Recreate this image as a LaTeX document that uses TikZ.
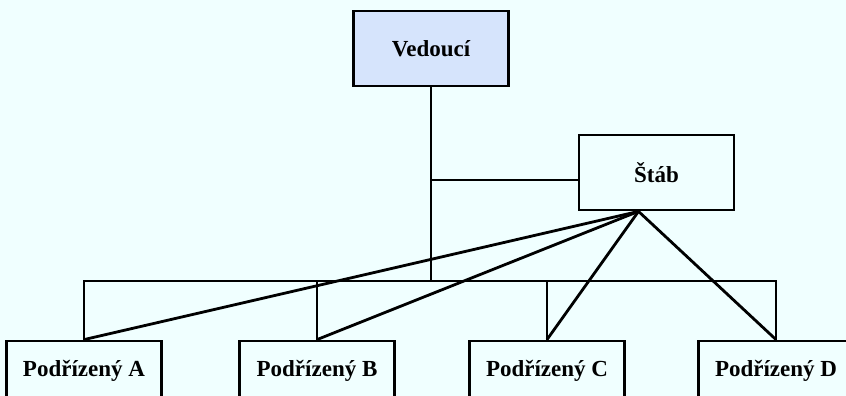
\documentclass[tikz,border=0pt]{standalone}
\usepackage{fontspec}
\setmainfont{Liberation Serif}
\definecolor{bgcyan}{RGB}{240,255,255}
\definecolor{bossblue}{RGB}{214,228,252}
\begin{document}
\begin{tikzpicture}[x=1pt,y=-1pt]
	\tikzstyle{every node}+=[inner sep=0pt]
	\tikzstyle{unit}=[draw=black, line width=2.8pt, minimum width=155pt, minimum height=75pt, font=\fontsize{23}{27}\selectfont\bfseries]
	\tikzstyle{link}=[black, line width=2.8pt]
	\useasboundingbox (0,0) rectangle (846,396);
	\fill [bgcyan] (0,0) rectangle (846,396);
	\clip (0,0) rectangle (846,396);
	% boxes
	\node [unit, fill=bossblue] (boss) at (431,48.5) {Vedoucí};
	\node [unit] (staff) at (656.5,172.5) {Štáb};
	\node [unit, minimum height=60pt] (subA) at (84,371) {Podřízený A};
	\node [unit, minimum height=60pt] (subB) at (317,371) {Podřízený B};
	\node [unit, minimum height=60pt] (subC) at (547,371) {Podřízený C};
	\node [unit, minimum height=60pt] (subD) at (776,371) {Podřízený D};
	% line of command
	\coordinate (busmid) at (431,281);
	\coordinate (stafftap) at (431,180);
	\draw [link] (boss.south) -- (busmid);
	\draw [link] (stafftap) -- (stafftap -| staff.west);
	\draw [link] (subA.north) -- (subA.north |- busmid) -- (subD.north |- busmid) -- (subD.north);
	\draw [link] (subB.north) -- (subB.north |- busmid);
	\draw [link] (subC.north) -- (subC.north |- busmid);
	% staff advice
	\coordinate (fan) at ([xshift=-18pt]staff.south);
	\foreach \s in {subA,subB,subC,subD}
		\draw [link] (fan) -- (\s.north);
\end{tikzpicture}
\end{document}
